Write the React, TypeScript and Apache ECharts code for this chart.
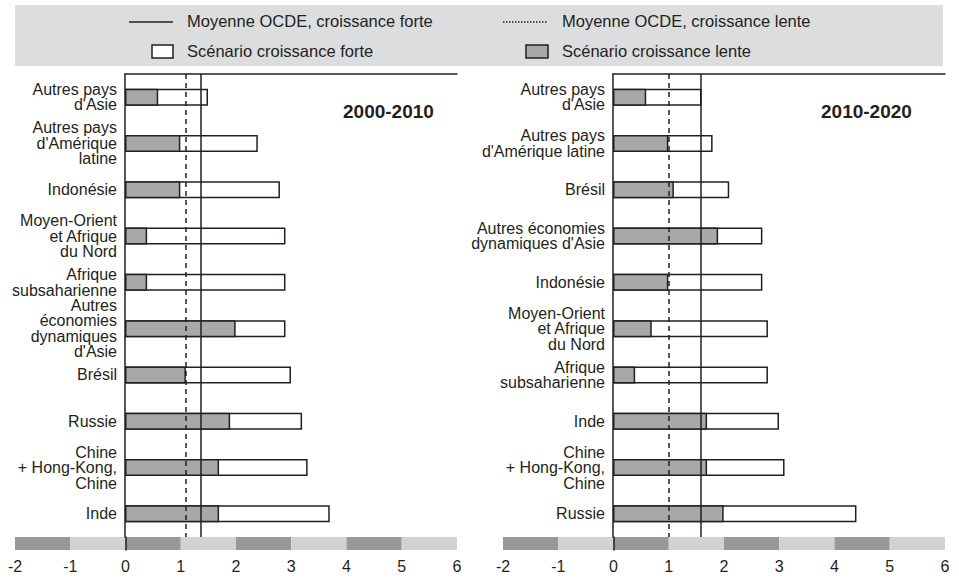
import React, { useEffect, useRef } from "react";
import * as echarts from "echarts";

const leftCategories = [
  "Autres pays\nd'Asie",
  "Autres pays\nd'Amérique\nlatine",
  "Indonésie",
  "Moyen-Orient\net Afrique\ndu Nord",
  "Afrique\nsubsaharienne",
  "Autres\néconomies\ndynamiques\nd'Asie",
  "Brésil",
  "Russie",
  "Chine\n+ Hong-Kong,\nChine",
  "Inde",
];
const leftSlow = [0.6, 1.0, 1.0, 0.4, 0.4, 2.0, 1.1, 1.9, 1.7, 1.7];
const leftFast = [1.5, 2.4, 2.8, 2.9, 2.9, 2.9, 3.0, 3.2, 3.3, 3.7];
const leftOecdFast = 1.36;
const leftOecdSlow = 1.09;

const rightCategories = [
  "Autres pays\nd'Asie",
  "Autres pays\nd'Amérique latine",
  "Brésil",
  "Autres économies\ndynamiques d'Asie",
  "Indonésie",
  "Moyen-Orient\net Afrique\ndu Nord",
  "Afrique\nsubsaharienne",
  "Inde",
  "Chine\n+ Hong-Kong,\nChine",
  "Russie",
];
const rightSlow = [0.6, 1.0, 1.1, 1.9, 1.0, 0.7, 0.4, 1.7, 1.7, 2.0];
const rightFast = [1.6, 1.8, 2.1, 2.7, 2.7, 2.8, 2.8, 3.0, 3.1, 4.4];
const rightOecdFast = 1.58;
const rightOecdSlow = 1.0;

const panelTitles = ["2000-2010", "2010-2020"];
const legendLabels = [
  "Moyenne OCDE, croissance forte",
  "Moyenne OCDE, croissance lente",
  "Scénario croissance forte",
  "Scénario croissance lente",
];

const FONT = "'Liberation Sans', Arial, sans-serif";
const INK = "#231f20";
const GRAY_BAR = "#a7a8aa";
const BAND_DARK = "#97989a";
const BAND_LIGHT = "#d1d2d4";
const LEGEND_BG = "#dcdddf";

export default function App() {
  const ref = useRef<HTMLDivElement>(null);

  useEffect(() => {
    document.body.style.margin = "0";
    if (!ref.current) return;
    const chart = echarts.init(ref.current, null, { renderer: "svg" });

    const panels = [
      { left: 125, bandLeft: 15, cats: leftCategories, slow: leftSlow, fast: leftFast, of: leftOecdFast, os: leftOecdSlow },
      { left: 613, bandLeft: 503, cats: rightCategories, slow: rightSlow, fast: rightFast, of: rightOecdFast, os: rightOecdSlow },
    ];

    const grids: any[] = [];
    const xAxes: any[] = [];
    const yAxes: any[] = [];
    const series: any[] = [];

    panels.forEach((p, i) => {
      grids.push({ left: p.left, top: 74, width: 332, height: 463, containLabel: false });
      grids.push({ left: p.bandLeft, top: 537, width: 442, height: 13, containLabel: false });
      const gMain = i * 2;
      const gBand = i * 2 + 1;

      xAxes.push({
        type: "value",
        gridIndex: gMain,
        min: 0,
        max: 6,
        interval: 1,
        position: "top",
        axisLine: { show: true, onZero: false, lineStyle: { color: INK, width: 1.5 } },
        axisTick: { show: false },
        axisLabel: { show: false },
        splitLine: { show: false },
      });
      xAxes.push({
        type: "value",
        gridIndex: gBand,
        min: -2,
        max: 6,
        interval: 1,
        position: "bottom",
        axisLine: { show: false },
        axisTick: { show: false },
        axisLabel: { show: true, margin: 8, fontSize: 16, color: INK, fontFamily: FONT },
        splitLine: { show: false },
        splitArea: { show: true, areaStyle: { color: [BAND_DARK, BAND_LIGHT], opacity: 1 } },
      });

      yAxes.push({
        type: "category",
        gridIndex: gMain,
        data: p.cats,
        inverse: true,
        axisLine: { show: true, lineStyle: { color: INK, width: 1.5 } },
        axisTick: { show: false },
        axisLabel: {
          show: true,
          margin: 8,
          fontSize: 16,
          lineHeight: 15.5,
          color: INK,
          fontFamily: FONT,
          align: "right",
        },
        splitLine: { show: false },
      });
      yAxes.push({
        type: "category",
        gridIndex: gBand,
        data: [""],
        axisLine: { show: true, onZero: true, lineStyle: { color: INK, width: 1.5 } },
        axisTick: { show: false },
        axisLabel: { show: false },
        splitLine: { show: false },
        z: 5,
      });

      series.push({
        type: "bar",
        name: legendLabels[2],
        xAxisIndex: gMain,
        yAxisIndex: gMain,
        data: p.fast,
        barWidth: 17,
        barGap: "-100%",
        itemStyle: { color: "#ffffff", borderColor: INK, borderWidth: 1.5 },
        silent: true,
      });
      series.push({
        type: "bar",
        name: legendLabels[3],
        xAxisIndex: gMain,
        yAxisIndex: gMain,
        data: p.slow,
        barWidth: 17,
        barGap: "-100%",
        itemStyle: { color: GRAY_BAR, borderColor: INK, borderWidth: 1.5 },
        silent: true,
        markLine: {
          silent: true,
          symbol: ["none", "none"],
          label: { show: false },
          data: [
            { xAxis: p.of, lineStyle: { type: "solid", color: INK, width: 1.5 } },
            { xAxis: p.os, lineStyle: { type: [5, 4], color: INK, width: 1.5 } },
          ],
        },
      });
    });

    const legendGraphics: any[] = [
      { type: "rect", shape: { x: 15, y: 5, width: 928, height: 61 }, style: { fill: LEGEND_BG }, z: -10 },
      { type: "line", shape: { x1: 129, y1: 22, x2: 173, y2: 22 }, style: { stroke: INK, lineWidth: 1.5 } },
      {
        type: "text",
        x: 187,
        y: 21,
        style: { text: legendLabels[0], fontSize: 16.5, fontFamily: FONT, fill: INK, verticalAlign: "middle" },
      },
      { type: "line", shape: { x1: 503, y1: 22, x2: 548, y2: 22 }, style: { stroke: INK, lineWidth: 1.5, lineDash: [1.5, 1.5] } },
      {
        type: "text",
        x: 562,
        y: 21,
        style: { text: legendLabels[1], fontSize: 16.5, fontFamily: FONT, fill: INK, verticalAlign: "middle" },
      },
      { type: "rect", shape: { x: 152, y: 45, width: 21, height: 13 }, style: { fill: "#ffffff", stroke: INK, lineWidth: 1.5 } },
      {
        type: "text",
        x: 187,
        y: 51,
        style: { text: legendLabels[2], fontSize: 16.5, fontFamily: FONT, fill: INK, verticalAlign: "middle" },
      },
      { type: "rect", shape: { x: 526, y: 45, width: 22, height: 13 }, style: { fill: GRAY_BAR, stroke: INK, lineWidth: 1.5 } },
      {
        type: "text",
        x: 562,
        y: 51,
        style: { text: legendLabels[3], fontSize: 16.5, fontFamily: FONT, fill: INK, verticalAlign: "middle" },
      },
    ];

    chart.setOption({
      animation: false,
      backgroundColor: "#ffffff",
      title: [
        { text: panelTitles[0], left: 343, top: 102, padding: 0, textStyle: { fontSize: 19, fontWeight: "bold", color: INK, fontFamily: FONT } },
        { text: panelTitles[1], left: 821, top: 102, padding: 0, textStyle: { fontSize: 19, fontWeight: "bold", color: INK, fontFamily: FONT } },
      ],
      grid: grids,
      xAxis: xAxes,
      yAxis: yAxes,
      series,
      graphic: legendGraphics,
    });

    return () => chart.dispose();
  }, []);

  return <div ref={ref} style={{ width: 959, height: 578 }} />;
}
